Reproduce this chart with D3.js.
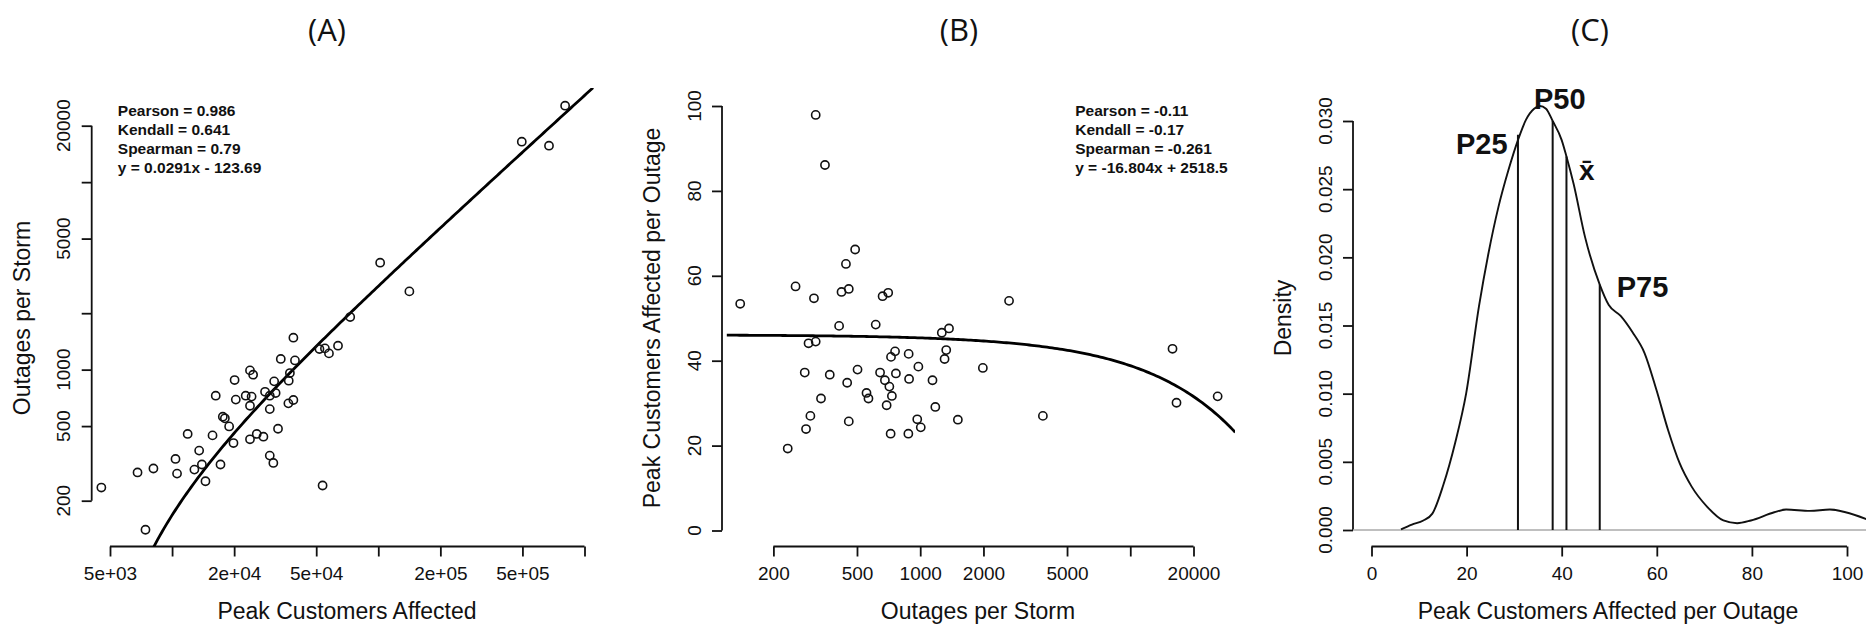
<!DOCTYPE html>
<html>
<head>
<meta charset="utf-8">
<script src="https://cdn.jsdelivr.net/npm/d3@7"></script>
<style>
  html, body { margin: 0; padding: 0; background: #fff; }
  svg { display: block; font-family: "Liberation Sans", Arial, sans-serif; }
</style>
</head>
<body>
<svg id="chart" width="1868" height="627"></svg>
<script>
// ---------------- DATA ----------------
// Panel A: peak customers affected (x) vs outages per storm (y)
const aPeak = [4540, 6800, 8120, 7430, 10390, 10570, 11900, 12830, 13530, 13950, 14520, 15710, 16280, 17170,
  17620, 18030, 18910, 19850, 20100, 20370, 22750, 23870, 24720, 24300, 23870, 23870, 25740, 27730, 28240,
  29770, 29770, 29770, 30980, 31260, 31780, 32640, 33660, 36790, 37270, 36640, 38750, 38750, 39440, 51850,
  55110, 57650, 63780, 53690, 73090, 102100, 141500, 496400, 672700, 805400];
const aOutages = [235, 283, 297, 140, 334, 279, 454, 293, 370, 312, 254, 446, 726, 312,
  561, 550, 498, 406, 880, 692, 726, 991, 940, 718, 642, 425, 454, 439, 762,
  726, 616, 348, 318, 866, 750, 484, 1140, 873, 959, 661, 689, 1480, 1120, 1288,
  1298, 1221, 1342, 241, 1908, 3718, 2614, 16430, 15640, 25570];
const aFit = [0.0291, -123.69];           // y = 0.0291x - 123.69
const aFitX = [7500, 1100000];            // x extent of fitted line
const aStats = ["Pearson = 0.986", "Kendall = 0.641", "Spearman = 0.79", "y = 0.0291x - 123.69"];
const aXTicks = [5000, 10000, 20000, 50000, 100000, 200000, 500000, 1000000];
const aXLabels = ["5e+03", "", "2e+04", "5e+04", "", "2e+05", "5e+05", ""];
const aYTicks = [200, 500, 1000, 2000, 5000, 10000, 20000];
const aYLabels = ["200", "500", "1000", "", "5000", "", "20000"];

// Panel B: outages per storm (x) vs peak customers affected per outage (y)
const bOutages = [139, 255, 234, 282, 286, 294, 300, 312, 318, 318, 337, 352, 371, 411, 422, 443, 449, 457,
  457, 490, 503, 555, 567, 614, 644, 662, 679, 692, 704, 713, 726, 733, 723, 759, 766, 878, 881, 885, 968,
  980, 1006, 1144, 1180, 1267, 1306, 1330, 1371, 1511, 1987, 2648, 3837, 15890, 16600, 26060];
const bRatio = [53.4, 57.5, 19.3, 37.2, 23.9, 44.1, 27.0, 54.7, 97.9, 44.5, 31.1, 86.1, 36.7, 48.2, 56.2, 62.8,
  34.8, 56.9, 25.7, 66.2, 37.9, 32.4, 31.1, 48.5, 37.2, 55.2, 35.4, 29.5, 56.0, 33.9, 40.9, 31.7, 22.8, 42.2,
  37.0, 22.8, 41.6, 35.7, 26.2, 38.6, 24.3, 35.4, 29.1, 46.6, 40.4, 42.5, 47.6, 26.1, 38.3, 54.1, 27.0, 42.8,
  30.1, 31.6];
const bFit = [46.1, -0.000727];           // fitted curve as drawn (intercept, slope)
const bFitX = [120, 31600];
const bStats = ["Pearson = -0.11", "Kendall = -0.17", "Spearman = -0.261", "y = -16.804x + 2518.5"];
const bXTicks = [200, 500, 1000, 2000, 5000, 10000, 20000];
const bXLabels = ["200", "500", "1000", "2000", "5000", "", "20000"];
const bYTicks = [0, 20, 40, 60, 80, 100];
const bYLabels = ["0", "20", "40", "60", "80", "100"];

// Panel C: density of peak customers affected per outage
const densX = [6.2, 8.5, 10.9, 12.8, 15.1, 17.6, 19.9, 22.6, 24.6, 26.7, 28.8, 30.8, 32.5, 34.2, 35.4, 36.7,
  38.1, 40.0, 41.0, 42.5, 44.9, 48.0, 49.9, 52.4, 54.9, 57.4, 59.9, 62.4, 64.8, 67.3, 70.6, 74.0, 76.9, 79.8,
  84.7, 87.2, 92.2, 96.4, 99.7, 104.1];
const densY = [0.00005, 0.0004, 0.0007, 0.0012, 0.0033, 0.0064, 0.0100, 0.0164, 0.0203, 0.0237, 0.0264,
  0.0286, 0.0301, 0.0309, 0.0311, 0.0309, 0.0300, 0.0286, 0.0274, 0.0254, 0.0215, 0.0180, 0.0165, 0.0157,
  0.0145, 0.0130, 0.0103, 0.0073, 0.0049, 0.0032, 0.0017, 0.0007, 0.0005, 0.0007, 0.0013, 0.0015, 0.0014,
  0.0015, 0.0013, 0.0008];
const qNames = ["P25", "P50", "x\u0304", "P75"];
const qValues = [30.8, 38.1, 41.0, 48.0];
const qDensity = [0.0290, 0.0300, 0.0274, 0.0180];
const qLabelX = [23.2, 39.6, 45.3, 57.0];
const qLabelY = [0.0283, 0.0316, 0.0264, 0.0178];
const cXTicks = [0, 20, 40, 60, 80, 100];
const cXLabels = ["0", "20", "40", "60", "80", "100"];
const cYTicks = [0, 0.005, 0.010, 0.015, 0.020, 0.025, 0.030];
const cYLabels = ["0.000", "0.005", "0.010", "0.015", "0.020", "0.025", "0.030"];

const titles = ["(A)", "(B)", "(C)"];

// ---------------- LAYOUT ----------------
const svg = d3.select("#chart");
const TOP = 88, BOTTOM = 546.5;
const panels = {
  A: {left: 91.7, right: 600, titleX: 327},
  B: {left: 722, right: 1235, titleX: 959},
  C: {left: 1353, right: 1866, titleX: 1590}
};

const xA = d3.scaleLog().domain([5000, 1000000]).range([110, 584.5]);
const yA = d3.scaleLog().domain([200, 20000]).range([500.7, 125.7]);
const xB = d3.scaleLog().domain([200, 20000]).range([773.4, 1193.5]);
const yB = d3.scaleLinear().domain([0, 100]).range([530.5, 106]);
const xC = d3.scaleLinear().domain([0, 100]).range([1371.5, 1847]);
const yC = d3.scaleLinear().domain([0, 0.03]).range([530, 121]);

const AXIS_W = 1.8, TICK = 10;

function bottomAxis(x, ticks, labels, cx, title) {
  const g = svg.append("g").attr("transform", `translate(0,${BOTTOM})`);
  const ax = d3.axisBottom(x).tickValues(ticks).tickSize(TICK).tickSizeOuter(0)
    .tickPadding(10).tickFormat((d, i) => labels[i]);
  g.call(ax);
  g.select(".domain").remove();
  g.append("line").attr("x1", x(ticks[0])).attr("x2", x(ticks[ticks.length - 1]))
    .attr("stroke", "#111").attr("stroke-width", AXIS_W);
  g.selectAll(".tick line").attr("stroke", "#111").attr("stroke-width", AXIS_W);
  g.selectAll(".tick text").attr("font-size", 19).attr("fill", "#111")
    .attr("font-family", "Liberation Sans, Arial, sans-serif");
  svg.append("text").attr("x", cx).attr("y", 619).attr("text-anchor", "middle")
    .attr("font-size", 23).attr("fill", "#111").text(title);
}

function leftAxis(y, left, ticks, labels, cy, title) {
  const g = svg.append("g").attr("transform", `translate(${left},0)`);
  const ax = d3.axisLeft(y).tickValues(ticks).tickSize(TICK).tickSizeOuter(0).tickFormat("");
  g.call(ax);
  g.select(".domain").remove();
  g.append("line").attr("y1", y(ticks[0])).attr("y2", y(ticks[ticks.length - 1]))
    .attr("stroke", "#111").attr("stroke-width", AXIS_W);
  g.selectAll(".tick line").attr("stroke", "#111").attr("stroke-width", AXIS_W);
  ticks.forEach((t, i) => {
    if (!labels[i]) return;
    g.append("text").attr("transform", `translate(-28,${y(t)}) rotate(-90)`)
      .attr("text-anchor", "middle").attr("dominant-baseline", "central")
      .attr("font-size", 19).attr("fill", "#111").text(labels[i]);
  });
  svg.append("text").attr("transform", `translate(${left - 70},${cy}) rotate(-90)`)
    .attr("text-anchor", "middle").attr("dominant-baseline", "central")
    .attr("font-size", 23).attr("fill", "#111").text(title);
}

function clip(id, p) {
  svg.append("clipPath").attr("id", id).append("rect")
    .attr("x", p.left).attr("y", TOP).attr("width", p.right - p.left).attr("height", BOTTOM - TOP);
}

// titles
["A", "B", "C"].forEach((k, i) => {
  svg.append("text").attr("x", panels[k].titleX).attr("y", 41).attr("text-anchor", "middle")
    .attr("font-size", 31).attr("fill", "#111").attr("font-family", "Open Sans, Liberation Sans, sans-serif")
    .text(titles[i]);
});

// ---------------- PANEL A ----------------
clip("clipA", panels.A);
bottomAxis(xA, aXTicks, aXLabels, 347, "Peak Customers Affected");
leftAxis(yA, panels.A.left, aYTicks, aYLabels, 318, "Outages per Storm");
const aLineData = d3.range(0, 201).map(i => {
  const lx = Math.log10(aFitX[0]) + (Math.log10(aFitX[1]) - Math.log10(aFitX[0])) * i / 200;
  const xv = Math.pow(10, lx);
  return [xv, aFit[0] * xv + aFit[1]];
}).filter(d => d[1] > 0);
svg.append("path").attr("clip-path", "url(#clipA)")
  .attr("d", d3.line().x(d => xA(d[0])).y(d => yA(d[1]))(aLineData))
  .attr("fill", "none").attr("stroke", "#000").attr("stroke-width", 2.8);
svg.append("g").selectAll("circle").data(aPeak).join("circle")
  .attr("cx", d => xA(d)).attr("cy", (d, i) => yA(aOutages[i])).attr("r", 4.1)
  .attr("fill", "none").attr("stroke", "#111").attr("stroke-width", 1.6);
svg.append("g").selectAll("text").data(aStats).join("text")
  .attr("x", 117.8).attr("y", (d, i) => 116 + i * 19)
  .attr("font-size", 15.5).attr("font-weight", "bold").attr("fill", "#111").text(d => d);

// ---------------- PANEL B ----------------
clip("clipB", panels.B);
bottomAxis(xB, bXTicks, bXLabels, 978, "Outages per Storm");
leftAxis(yB, panels.B.left, bYTicks, bYLabels, 318, "Peak Customers Affected per Outage");
const bLineData = d3.range(0, 201).map(i => {
  const lx = Math.log10(bFitX[0]) + (Math.log10(bFitX[1]) - Math.log10(bFitX[0])) * i / 200;
  const xv = Math.pow(10, lx);
  return [xv, bFit[0] + bFit[1] * xv];
});
svg.append("path").attr("clip-path", "url(#clipB)")
  .attr("d", d3.line().x(d => xB(d[0])).y(d => yB(d[1]))(bLineData))
  .attr("fill", "none").attr("stroke", "#000").attr("stroke-width", 2.8);
svg.append("g").selectAll("circle").data(bOutages).join("circle")
  .attr("cx", d => xB(d)).attr("cy", (d, i) => yB(bRatio[i])).attr("r", 4.1)
  .attr("fill", "none").attr("stroke", "#111").attr("stroke-width", 1.6);
svg.append("g").selectAll("text").data(bStats).join("text")
  .attr("x", 1075.2).attr("y", (d, i) => 116 + i * 19)
  .attr("font-size", 15.5).attr("font-weight", "bold").attr("fill", "#111").text(d => d);

// ---------------- PANEL C ----------------
clip("clipC", panels.C);
bottomAxis(xC, cXTicks, cXLabels, 1608, "Peak Customers Affected per Outage");
leftAxis(yC, panels.C.left, cYTicks, cYLabels, 318, "Density");
svg.append("line").attr("x1", panels.C.left).attr("x2", panels.C.right)
  .attr("y1", yC(0)).attr("y2", yC(0)).attr("stroke", "#aaa").attr("stroke-width", 1.5);
svg.append("path").attr("clip-path", "url(#clipC)")
  .attr("d", d3.line().curve(d3.curveMonotoneX).x((d, i) => xC(d)).y((d, i) => yC(densY[i]))(densX))
  .attr("fill", "none").attr("stroke", "#111").attr("stroke-width", 1.9);
svg.append("g").selectAll("line").data(qValues).join("line")
  .attr("x1", d => xC(d)).attr("x2", d => xC(d))
  .attr("y1", yC(0)).attr("y2", (d, i) => yC(qDensity[i]))
  .attr("stroke", "#111").attr("stroke-width", 2);
svg.append("g").selectAll("text").data(qNames).join("text")
  .attr("x", (d, i) => xC(qLabelX[i])).attr("y", (d, i) => yC(qLabelY[i]))
  .attr("text-anchor", "middle").attr("dominant-baseline", "central")
  .attr("font-size", (d, i) => i === 2 ? 28 : 29).attr("font-weight", "bold").attr("fill", "#111")
  .text(d => d);
</script>
</body>
</html>
